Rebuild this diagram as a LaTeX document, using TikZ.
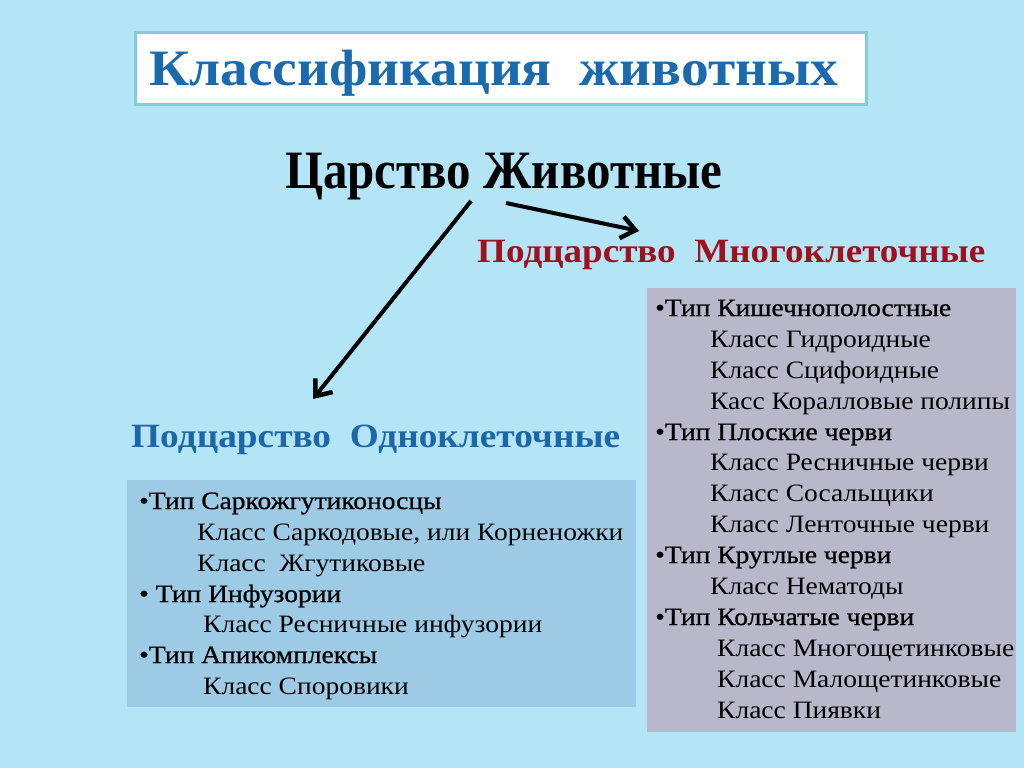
\documentclass[tikz,border=0pt]{standalone}
\usepackage{fontspec}
\usepackage{graphicx}
\setmainfont{Liberation Serif}
\newfontfamily\listfont[FakeStretch=1.1]{Liberation Serif}
\newfontfamily\typefont[FakeStretch=1.1,FakeBold=0.8]{Liberation Serif}
\usetikzlibrary{arrows.meta}
\definecolor{bg}{HTML}{B4E5F6}
\definecolor{titleblue}{HTML}{1C6AAE}
\definecolor{frameteal}{HTML}{86CCD8}
\definecolor{leftbox}{HTML}{9DCAE5}
\definecolor{rightbox}{HTML}{B9B7CA}
\definecolor{subred}{HTML}{A0101E}
\definecolor{subblue}{HTML}{1D67A8}
\newcommand{\fitw}[2]{\resizebox{#1}{\height}{#2}}
\tikzset{
  head/.style={anchor=base west, inner sep=0pt, font=\bfseries},
  lst/.style={anchor=base west, inner sep=0pt, font=\listfont\fontsize{25}{29}\selectfont},
  typ/.style={anchor=base west, inner sep=0pt, font=\typefont\fontsize{25}{29}\selectfont},
  arr/.style={line width=4pt, -{Straight Barb[length=14pt,width=22pt,line width=4.5pt]}}
}
\begin{document}
\begin{tikzpicture}[x=1pt,y=-1pt]
\useasboundingbox (0,0) rectangle (1024,768);
\fill[bg] (0,0) rectangle (1024,768);
% title frame
\draw[frameteal, line width=3pt, fill=white] (135,33) rectangle (866,104);
\node[head, text=titleblue] (tt) at (149,85)
  {\fitw{689pt}{\fontsize{51}{60}\selectfont Классификация\ \ животных}};
% kingdom
\node[head, text=black] (kg) at (285,188)
  {\fitw{437pt}{\fontsize{54}{60}\selectfont Царство Животные}};
% subkingdoms
\node[head, text=subred] (mc) at (477,262)
  {\fitw{508pt}{\fontsize{34}{38}\selectfont Подцарство\ \ Многоклеточные}};
\node[head, text=subblue] (uc) at (131,447)
  {\fitw{489pt}{\fontsize{34}{38}\selectfont Подцарство\ \ Одноклеточные}};
% arrows
\coordinate (a1s) at (471,201);
\coordinate (a1e) at (313,399);
\coordinate (a2s) at (506,203);
\coordinate (a2e) at (639,231);
\draw[arr] (a1s) -- (a1e);
\draw[arr] (a2s) -- (a2e);
% boxes
\fill[leftbox] (127,480) rectangle (636,707);
\fill[rightbox] (647,288) rectangle (1016,732);
% left list
\node[typ] (l1) at (139,509) {•Тип Саркожгутиконосцы};
\node[lst] (l2) at (197,540) {Класс Саркодовые, или Корненожки};
\node[lst] (l3) at (197,571) {Класс\ \ Жгутиковые};
\node[typ] (l4) at (139,602) {• Тип Инфузории};
\node[lst] (l5) at (203,632) {Класс Ресничные инфузории};
\node[typ] (l6) at (139,663) {•Тип Апикомплексы};
\node[lst] (l7) at (203,694) {Класс Споровики};
% right list
\node[typ] (r1) at (655,316) {•Тип Кишечнополостные};
\node[lst] (r2) at (710,347) {Класс Гидроидные};
\node[lst] (r3) at (710,378) {Класс Сцифоидные};
\node[lst] (r4) at (710,409) {Касс Коралловые полипы};
\node[typ] (r5) at (655,440) {•Тип Плоские черви};
\node[lst] (r6) at (710,470) {Класс Ресничные черви};
\node[lst] (r7) at (710,501) {Класс Сосальщики};
\node[lst] (r8) at (710,532) {Класс Ленточные черви};
\node[typ] (r9) at (655,563) {•Тип Круглые черви};
\node[lst] (r10) at (710,594) {Класс Нематоды};
\node[typ] (r11) at (655,625) {•Тип Кольчатые черви};
\node[lst] (r12) at (717,656) {Класс Многощетинковые};
\node[lst] (r13) at (717,687) {Класс Малощетинковые};
\node[lst] (r14) at (717,718) {Класс Пиявки};
\end{tikzpicture}
\end{document}
